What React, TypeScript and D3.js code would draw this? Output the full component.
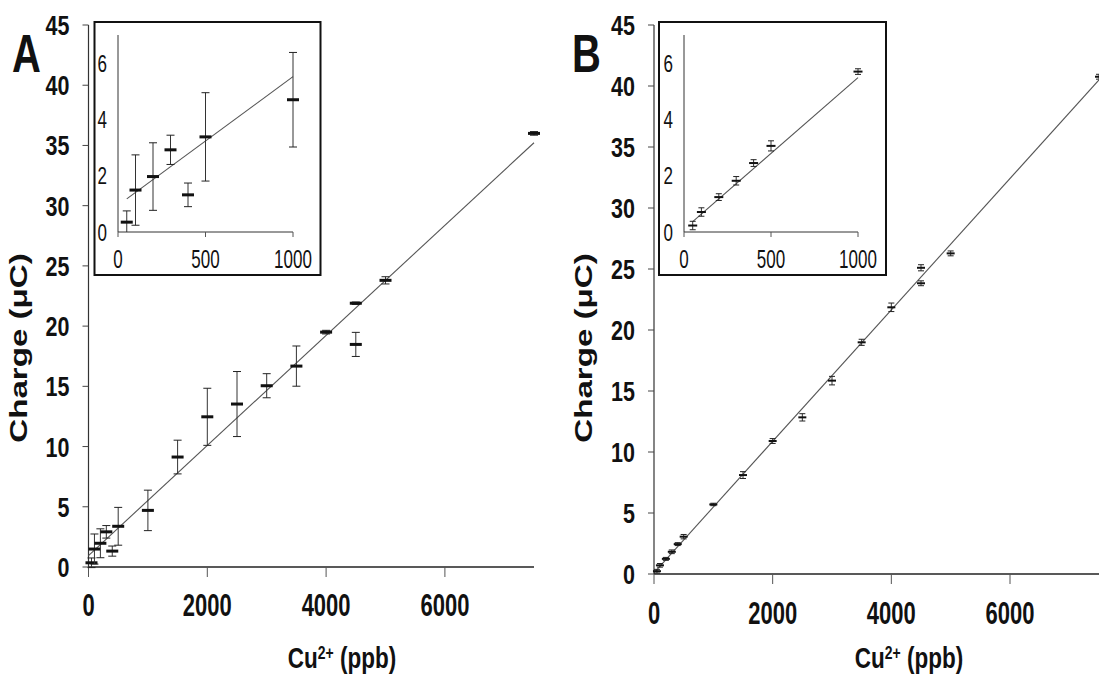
import React from "react";
import * as d3 from "d3";

// ---------- data ----------
const concA = [50, 100, 200, 300, 400, 500, 1000, 1500, 2000, 2500, 3000, 3500, 4000, 4500, 4500, 5000, 7500];
const chargeA = [0.35, 1.49, 1.97, 2.92, 1.32, 3.38, 4.7, 9.13, 12.47, 13.53, 15.05, 16.68, 19.5, 21.9, 18.48, 23.8, 36.0];
const errA = [0.4, 1.25, 1.2, 0.52, 0.42, 1.57, 1.68, 1.4, 2.37, 2.7, 1.0, 1.67, 0.15, 0.1, 1.0, 0.3, 0.15];

const concB = [50, 100, 200, 300, 400, 500, 1000, 1500, 2000, 2500, 3000, 3500, 4000, 4500, 4500, 5000, 7500];
const chargeB = [0.23, 0.71, 1.24, 1.82, 2.45, 3.06, 5.7, 8.11, 10.9, 12.84, 15.85, 18.99, 21.86, 25.1, 23.83, 26.28, 40.76];
const errB = [0.15, 0.15, 0.12, 0.15, 0.12, 0.18, 0.1, 0.28, 0.2, 0.3, 0.35, 0.25, 0.35, 0.25, 0.2, 0.2, 0.2];

const fitA = { slope: 0.00457, intercept: 0.95 };
const fitB = { slope: 0.005387, intercept: 0.1 };

const mainYTicks = [0, 5, 10, 15, 20, 25, 30, 35, 40, 45];
const mainXTicks = [0, 2000, 4000, 6000];
const insetYTicks = [0, 2, 4, 6];
const insetXTicks = [0, 500, 1000];

const FONT = "'Liberation Sans', Arial, Helvetica, sans-serif";

type TP = {
  x: number; y: number; size: number; weight?: string; anchor?: string;
  sx?: number; sy?: number; rotate?: number; children: React.ReactNode; fill?: string;
};
function T({ x, y, size, weight = "bold", anchor = "middle", sx = 1, sy = 1, rotate = 0, children, fill = "#111" }: TP) {
  return (
    <text
      transform={`translate(${x},${y}) rotate(${rotate}) scale(${sx},${sy})`}
      fontSize={size}
      fontWeight={weight}
      fontFamily={FONT}
      textAnchor={anchor as any}
      fill={fill}
    >
      {children}
    </text>
  );
}

type PanelProps = {
  letter: string;
  conc: number[]; charge: number[]; err: number[];
  fit: { slope: number; intercept: number };
  xRange: [number, number]; y0: number;
  inset: { box: [number, number, number, number]; xRange: [number, number] };
  titleX: number; xLabelX: number; letterX: number;
  dashW: number; dashH: number; capW: number;
  iDashW: number; iDashH: number; iCapW: number;
  xLabelBase: number;
};

function Panel(p: PanelProps) {
  const x = d3.scaleLinear().domain([0, 7500]).range(p.xRange);
  const y = d3.scaleLinear().domain([0, 45]).range([p.y0, 25]);
  const xi = d3.scaleLinear().domain([0, 1000]).range(p.inset.xRange);
  const yi = d3.scaleLinear().domain([0, 7]).range([232, 35]);
  function fit(v: number) { return p.fit.intercept + p.fit.slope * v; }
  const line = d3.line<number>().x((d) => x(d)).y((d) => y(fit(d)));
  const linei = d3.line<number>().x((d) => xi(d)).y((d) => yi(fit(d)));
  const [bx0, by0, bx1, by1] = p.inset.box;
  const insetIdx = p.conc.map((c, i) => i).filter((i) => p.conc[i] <= 1000);

  const ySize = 21.5, ySy = 1.3;
  const yCap = 0.716 * ySize * ySy;
  const iSize = 17;
  const iySy = 1.4, ixSy = 1.5;
  const iCap = 0.716 * iSize * iySy;

  return (
    <g>
      <T x={p.letterX} y={72} size={40} sy={1.32} anchor="start">{p.letter}</T>

      {/* main y axis */}
      <line x1={x(0)} x2={x(0)} y1={y(0)} y2={y(45)} stroke="#333" strokeWidth={1.2} />
      {mainYTicks.map((t) => (
        <g key={"yt" + t}>
          <line x1={x(0) - 6} x2={x(0)} y1={y(t)} y2={y(t)} stroke="#444" strokeWidth={1} />
          <T x={x(0) - 19} y={y(t) + yCap / 2} size={ySize} sy={ySy} anchor="end">{t}</T>
        </g>
      ))}
      {/* main x axis */}
      <line x1={x(0)} x2={x(7500)} y1={y(0)} y2={y(0)} stroke="#222" strokeWidth={1.5} />
      {mainXTicks.map((t) => (
        <g key={"xt" + t}>
          <line x1={x(t)} x2={x(t)} y1={y(0)} y2={y(0) + 10} stroke="#555" strokeWidth={1} />
          <T x={x(t)} y={p.xLabelBase} size={22} sy={1.45} anchor="middle">{t}</T>
        </g>
      ))}

      {/* axis titles */}
      <T x={p.titleX} y={348} size={23} sx={1.44} rotate={-90} anchor="middle">Charge (μC)</T>
      <T x={p.xLabelX} y={668} size={22.5} sy={1.3} anchor="middle">
        Cu<tspan dy={-7} fontSize={14}>2+</tspan><tspan dy={7}> (ppb)</tspan>
      </T>

      {/* fit line */}
      <path d={line([0, 7500]) || ""} stroke="#555" strokeWidth={1.1} fill="none" />

      {/* main points */}
      {p.conc.map((c, i) => {
        const cx = x(c), lo = y(p.charge[i] - p.err[i]), hi = y(p.charge[i] + p.err[i]), cy = y(p.charge[i]);
        return (
          <g key={"p" + i}>
            <line x1={cx} x2={cx} y1={lo} y2={hi} stroke="#333" strokeWidth={1} />
            <line x1={cx - p.capW / 2} x2={cx + p.capW / 2} y1={lo} y2={lo} stroke="#222" strokeWidth={1} />
            <line x1={cx - p.capW / 2} x2={cx + p.capW / 2} y1={hi} y2={hi} stroke="#222" strokeWidth={1} />
            <rect x={cx - p.dashW / 2} y={cy - p.dashH / 2} width={p.dashW} height={p.dashH} fill="#111" />
          </g>
        );
      })}

      {/* inset */}
      <rect x={bx0} y={by0} width={bx1 - bx0} height={by1 - by0} fill="#fff" stroke="#111" strokeWidth={2} />
      <line x1={xi(0)} x2={xi(0)} y1={yi(0)} y2={yi(7)} stroke="#333" strokeWidth={1} />
      <line x1={xi(0)} x2={xi(1000)} y1={yi(0)} y2={yi(0)} stroke="#333" strokeWidth={1} />
      {insetYTicks.map((t) => (
        <T key={"iy" + t} x={xi(0) - 11} y={yi(t) + iCap / 2} size={iSize} sy={iySy} weight="normal" anchor="end">{t}</T>
      ))}
      {insetXTicks.map((t) => (
        <g key={"ix" + t}>
          <line x1={xi(t)} x2={xi(t)} y1={yi(0)} y2={yi(0) + 5} stroke="#555" strokeWidth={1} />
          <T x={xi(t)} y={268} size={iSize} sy={ixSy} weight="normal" anchor="middle">{t}</T>
        </g>
      ))}
      <path d={linei([50, 1000]) || ""} stroke="#555" strokeWidth={1.1} fill="none" />
      {insetIdx.map((i) => {
        const cx = xi(p.conc[i]);
        const lo = yi(Math.max(0, p.charge[i] - p.err[i]));
        const hi = yi(p.charge[i] + p.err[i]);
        const cy = yi(p.charge[i]);
        return (
          <g key={"ip" + i}>
            <line x1={cx} x2={cx} y1={lo} y2={hi} stroke="#333" strokeWidth={1} />
            <line x1={cx - p.iCapW / 2} x2={cx + p.iCapW / 2} y1={hi} y2={hi} stroke="#222" strokeWidth={1} />
            {p.charge[i] - p.err[i] > 0 && (
              <line x1={cx - p.iCapW / 2} x2={cx + p.iCapW / 2} y1={lo} y2={lo} stroke="#222" strokeWidth={1} />
            )}
            <rect x={cx - p.iDashW / 2} y={cy - p.iDashH / 2} width={p.iDashW} height={p.iDashH} fill="#111" />
          </g>
        );
      })}
    </g>
  );
}

export default function App() {
  return (
    <svg
      width={1099}
      height={678}
      style={{ position: "absolute", left: 0, top: 0, background: "#fff" }}
    >
      <rect x={0} y={0} width={1099} height={678} fill="#fff" />
      <Panel
        letter="A"
        conc={concA} charge={chargeA} err={errA} fit={fitA}
        xRange={[88.5, 534]} y0={567}
        inset={{ box: [94.5, 22, 320.5, 275], xRange: [118, 293] }}
        titleX={27} xLabelX={342} letterX={12}
        dashW={12} dashH={3} capW={8}
        iDashW={12} iDashH={3} iCapW={8}
        xLabelBase={616}
      />
      <Panel
        letter="B"
        conc={concB} charge={chargeB} err={errB} fit={fitB}
        xRange={[654, 1099]} y0={574}
        inset={{ box: [659, 22, 886, 275], xRange: [684, 858] }}
        titleX={592} xLabelX={909} letterX={572}
        dashW={8} dashH={2} capW={6}
        iDashW={9} iDashH={2} iCapW={6}
        xLabelBase={624}
      />
    </svg>
  );
}
